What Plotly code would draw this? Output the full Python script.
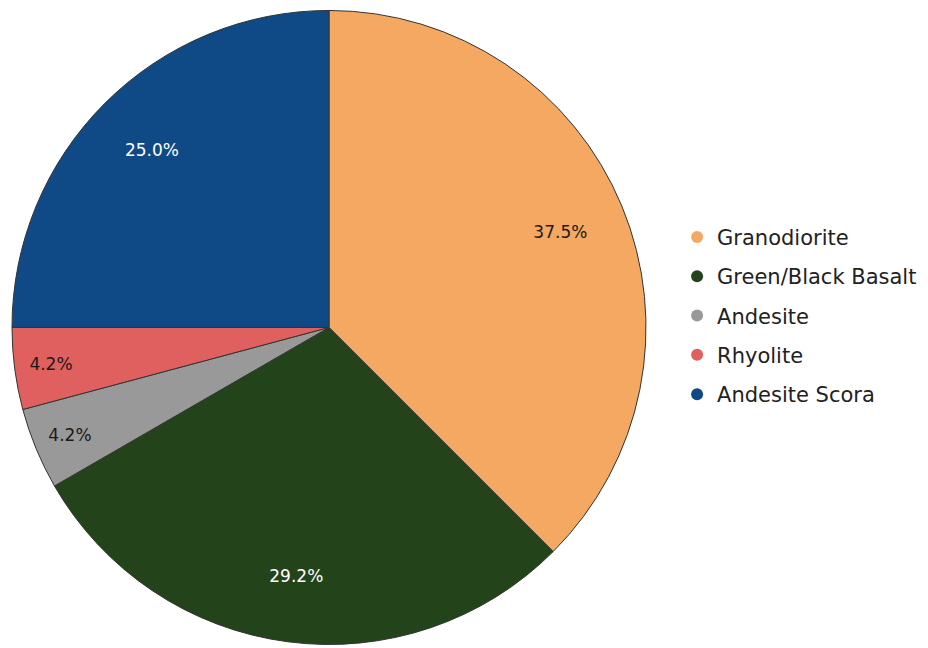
import plotly.graph_objects as go

labels = ["Granodiorite", "Green/Black Basalt", "Andesite", "Rhyolite", "Andesite Scora"]
counts = [9, 7, 1, 1, 6]
colors = ["#F4A862", "#23441A", "#999999", "#E06060", "#0F4A86"]
text_colors = ["#1A1A1A", "#FFFFFF", "#1A1A1A", "#1A1A1A", "#FFFFFF"]

FONT = "DejaVu Sans, Verdana, sans-serif"
PIE_DOMAIN = dict(x=[0.0043, 0.6875], y=[0.017, 0.997])

fig = go.Figure()
fig.add_trace(go.Pie(
    labels=labels, values=counts,
    sort=False, direction="clockwise", rotation=0,
    marker=dict(colors=colors, line=dict(color="#333333", width=1)),
    textinfo="none",
    domain=PIE_DOMAIN,
    showlegend=False, hoverinfo="label+percent",
))

# transparent ring on top, only to carry the percent labels further out
fig.add_trace(go.Pie(
    labels=labels, values=counts, hole=0.58,
    sort=False, direction="clockwise", rotation=0,
    marker=dict(colors=["rgba(0,0,0,0)"] * len(labels), line=dict(width=0)),
    texttemplate="%{percent:.1%}",
    textposition="inside", insidetextorientation="horizontal",
    textfont=dict(family=FONT, size=17, color=text_colors),
    domain=PIE_DOMAIN,
    showlegend=False, hoverinfo="skip",
))

# legend entries with round markers
for name, col in zip(labels, colors):
    fig.add_trace(go.Scatter(
        x=[None], y=[None], mode="markers", name=name, legendgroup=name,
        marker=dict(color=col, size=15, symbol="circle"),
    ))

fig.update_layout(
    width=928, height=648,
    paper_bgcolor="white", plot_bgcolor="white",
    margin=dict(l=0, r=0, t=0, b=0),
    xaxis=dict(visible=False), yaxis=dict(visible=False),
    legend=dict(
        x=0.721, y=0.525, xanchor="left", yanchor="middle",
        font=dict(family=FONT, size=21, color="#222222"),
        traceorder="grouped", tracegroupgap=9,
        itemsizing="constant",
    ),
)

fig.write_html("out.html")
